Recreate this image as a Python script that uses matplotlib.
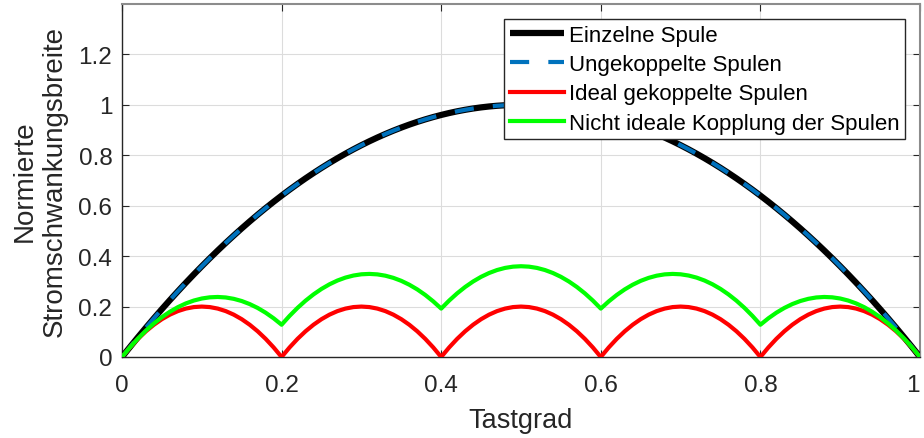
import matplotlib
matplotlib.use("Agg")
import matplotlib.pyplot as plt

# Tastgrad (duty cycle), sample positions every 0.01
duty = [round(i * 0.01, 2) for i in range(101)]

einzelne_spule = [
    0.0, 0.0396, 0.0784, 0.1164, 0.1536, 0.19, 0.2256, 0.2604, 0.2944, 0.3276,
    0.36, 0.3916, 0.4224, 0.4524, 0.4816, 0.51, 0.5376, 0.5644, 0.5904, 0.6156,
    0.64, 0.6636, 0.6864, 0.7084, 0.7296, 0.75, 0.7696, 0.7884, 0.8064, 0.8236,
    0.84, 0.8556, 0.8704, 0.8844, 0.8976, 0.91, 0.9216, 0.9324, 0.9424, 0.9516,
    0.96, 0.9676, 0.9744, 0.9804, 0.9856, 0.99, 0.9936, 0.9964, 0.9984, 0.9996,
    1.0,
    0.9996, 0.9984, 0.9964, 0.9936, 0.99, 0.9856, 0.9804, 0.9744, 0.9676, 0.96,
    0.9516, 0.9424, 0.9324, 0.9216, 0.91, 0.8976, 0.8844, 0.8704, 0.8556, 0.84,
    0.8236, 0.8064, 0.7884, 0.7696, 0.75, 0.7296, 0.7084, 0.6864, 0.6636, 0.64,
    0.6156, 0.5904, 0.5644, 0.5376, 0.51, 0.4816, 0.4524, 0.4224, 0.3916, 0.36,
    0.3276, 0.2944, 0.2604, 0.2256, 0.19, 0.1536, 0.1164, 0.0784, 0.0396, 0.0]

ungekoppelt = [
    0.0, 0.0396, 0.0784, 0.1164, 0.1536, 0.19, 0.2256, 0.2604, 0.2944, 0.3276,
    0.36, 0.3916, 0.4224, 0.4524, 0.4816, 0.51, 0.5376, 0.5644, 0.5904, 0.6156,
    0.64, 0.6636, 0.6864, 0.7084, 0.7296, 0.75, 0.7696, 0.7884, 0.8064, 0.8236,
    0.84, 0.8556, 0.8704, 0.8844, 0.8976, 0.91, 0.9216, 0.9324, 0.9424, 0.9516,
    0.96, 0.9676, 0.9744, 0.9804, 0.9856, 0.99, 0.9936, 0.9964, 0.9984, 0.9996,
    1.0,
    0.9996, 0.9984, 0.9964, 0.9936, 0.99, 0.9856, 0.9804, 0.9744, 0.9676, 0.96,
    0.9516, 0.9424, 0.9324, 0.9216, 0.91, 0.8976, 0.8844, 0.8704, 0.8556, 0.84,
    0.8236, 0.8064, 0.7884, 0.7696, 0.75, 0.7296, 0.7084, 0.6864, 0.6636, 0.64,
    0.6156, 0.5904, 0.5644, 0.5376, 0.51, 0.4816, 0.4524, 0.4224, 0.3916, 0.36,
    0.3276, 0.2944, 0.2604, 0.2256, 0.19, 0.1536, 0.1164, 0.0784, 0.0396, 0.0]

ideal_gekoppelt = [
    0.0, 0.038, 0.072, 0.102, 0.128, 0.15, 0.168, 0.182, 0.192, 0.198,
    0.2, 0.198, 0.192, 0.182, 0.168, 0.15, 0.128, 0.102, 0.072, 0.038,
    0.0, 0.038, 0.072, 0.102, 0.128, 0.15, 0.168, 0.182, 0.192, 0.198,
    0.2, 0.198, 0.192, 0.182, 0.168, 0.15, 0.128, 0.102, 0.072, 0.038,
    0.0, 0.038, 0.072, 0.102, 0.128, 0.15, 0.168, 0.182, 0.192, 0.198,
    0.2, 0.198, 0.192, 0.182, 0.168, 0.15, 0.128, 0.102, 0.072, 0.038,
    0.0, 0.038, 0.072, 0.102, 0.128, 0.15, 0.168, 0.182, 0.192, 0.198,
    0.2, 0.198, 0.192, 0.182, 0.168, 0.15, 0.128, 0.102, 0.072, 0.038,
    0.0, 0.038, 0.072, 0.102, 0.128, 0.15, 0.168, 0.182, 0.192, 0.198,
    0.2, 0.198, 0.192, 0.182, 0.168, 0.15, 0.128, 0.102, 0.072, 0.038,
    0.0]

nicht_ideal = [
    0.0, 0.0383, 0.0733, 0.1049, 0.1331, 0.158, 0.1795, 0.1977, 0.2125, 0.2239,
    0.232, 0.2367, 0.2381, 0.2361, 0.2307, 0.222, 0.2099, 0.1945, 0.1757, 0.1535,
    0.128, 0.1631, 0.1949, 0.2233, 0.2483, 0.27, 0.2883, 0.3033, 0.3149, 0.3231,
    0.328, 0.3295, 0.3277, 0.3225, 0.3139, 0.302, 0.2867, 0.2681, 0.2461, 0.2207,
    0.192, 0.2239, 0.2525, 0.2777, 0.2995, 0.318, 0.3331, 0.3449, 0.3533, 0.3583,
    0.36,
    0.3583, 0.3533, 0.3449, 0.3331, 0.318, 0.2995, 0.2777, 0.2525, 0.2239, 0.192,
    0.2207, 0.2461, 0.2681, 0.2867, 0.302, 0.3139, 0.3225, 0.3277, 0.3295, 0.328,
    0.3231, 0.3149, 0.3033, 0.2883, 0.27, 0.2483, 0.2233, 0.1949, 0.1631, 0.128,
    0.1535, 0.1757, 0.1945, 0.2099, 0.222, 0.2307, 0.2361, 0.2381, 0.2367, 0.232,
    0.2239, 0.2125, 0.1977, 0.1795, 0.158, 0.1331, 0.1049, 0.0733, 0.0383, 0.0]

labels = ["Einzelne Spule", "Ungekoppelte Spulen", "Ideal gekoppelte Spulen",
          "Nicht ideale Kopplung der Spulen"]
xticks = [0, 0.2, 0.4, 0.6, 0.8, 1]
xticklabels = ["0", "0.2", "0.4", "0.6", "0.8", "1"]
yticks = [0, 0.2, 0.4, 0.6, 0.8, 1, 1.2]
yticklabels = ["0", "0.2", "0.4", "0.6", "0.8", "1", "1.2"]

plt.rcParams['font.family'] = ['Liberation Sans', 'DejaVu Sans']

fig = plt.figure(figsize=(9.24, 4.39), dpi=100)
ax = fig.add_axes([122/924, 81/439, 798/924, 353/439])

ax.plot(duty, einzelne_spule, color='black', lw=4.5, solid_capstyle='butt', label=labels[0], zorder=3)
l2, = ax.plot(duty, ungekoppelt, color='#0072BD', lw=3, label=labels[1], zorder=4)
l2.set_dashes([4.6, 4.6])
l2.set_dash_capstyle('butt')
ax.plot(duty, ideal_gekoppelt, color='#FF0000', lw=3, label=labels[2], zorder=5)
ax.plot(duty, nicht_ideal, color='#00FF00', lw=3, label=labels[3], zorder=6)

ax.set_xlim(0, 1)
ax.set_ylim(0, 1.4)
ax.set_xticks(xticks)
ax.set_xticklabels(xticklabels)
ax.set_yticks(yticks)
ax.set_yticklabels(yticklabels)
ax.tick_params(direction='in', length=5, width=0.8, colors='#262626', labelsize=17.5,
               top=True, right=True)
ax.tick_params(axis='x', pad=12)
ax.tick_params(axis='y', pad=7)
ax.get_xticklabels()[-1].set_horizontalalignment('right')
ax.grid(True, color='#dcdcdc', lw=0.8)
ax.set_axisbelow(True)
for s in ['left', 'bottom']:
    ax.spines[s].set_color('#262626')
    ax.spines[s].set_linewidth(1.0)
for s in ['top', 'right']:
    ax.spines[s].set_color('#8c8c8c')
    ax.spines[s].set_linewidth(1.5)

ax.set_xlabel("Tastgrad", fontsize=19.5, color='#262626', labelpad=8)
ax.set_ylabel("Normierte\nStromschwankungsbreite", fontsize=20, color='#262626',
              linespacing=1.2, labelpad=8)

leg = ax.legend(loc='upper right', bbox_to_anchor=(905/924, 419/439), bbox_transform=fig.transFigure,
                fontsize=16, frameon=True, fancybox=False, framealpha=1, edgecolor='#262626',
                handlelength=2.45, handletextpad=0.2, labelspacing=0.38, borderpad=0.25,
                borderaxespad=0)
leg.get_frame().set_linewidth(1.0)
leg.set_zorder(10)

fig.savefig("out.png", dpi=100)
